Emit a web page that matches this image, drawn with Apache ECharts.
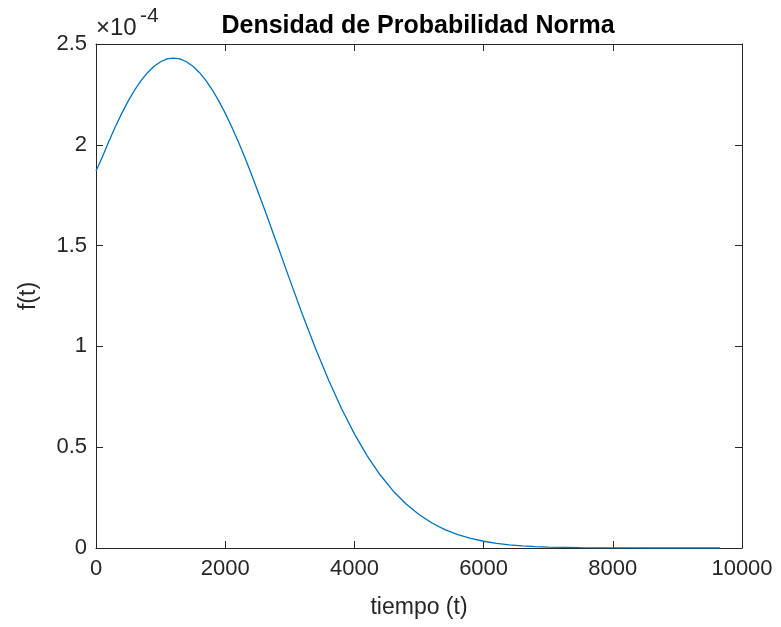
<!DOCTYPE html>
<html>
<head>
<meta charset="utf-8">
<script src="https://cdn.jsdelivr.net/npm/echarts@6/dist/echarts.min.js"></script>
<style>html,body{margin:0;padding:0;background:#fff}#c{width:781px;height:627px}</style>
</head>
<body>
<div id="c"></div>
<script>
const titleText = 'Densidad de Probabilidad Norma';
const xLabel = 'tiempo (t)';
const yLabel = 'f(t)';
const xTicks = [0, 2000, 4000, 6000, 8000, 10000];
const yTicks = [0, 0.5, 1, 1.5, 2, 2.5];
// time values
const tValues = [0,100,200,300,400,500,600,700,800,900,1000,1100,1200,1300,1400,1500,1600,1700,1800,1900,2000,2100,2200,2300,2400,2600,2800,3000,3200,3400,3600,3800,4000,4200,4400,4600,4800,5000,5200,5400,5600,5800,6000,6200,6400,6600,6800,7000,7500,8000,8500,9000,9660];
// density values in units of 1e-4
const fValues = [1.87,1.941,2.018,2.090,2.157,2.218,2.273,2.320,2.359,2.390,2.412,2.426,2.430,2.426,2.412,2.390,2.359,2.320,2.273,2.218,2.157,2.090,2.018,1.941,1.859,1.688,1.510,1.330,1.155,0.988,0.833,0.692,0.566,0.456,0.362,0.283,0.218,0.166,0.124,0.0915,0.0664,0.0476,0.0335,0.0233,0.0159,0.0107,0.0071,0.0047,0.0015,0.0004,0.0001,0,0];

const font = 'Liberation Sans, Arial, sans-serif';
const txt = '#262626';
const data = tValues.map((t, i) => [t, fValues[i]]);
const chart = echarts.init(document.getElementById('c'));
const axisCommon = () => ({
  axisLine: {show: true, onZero: false, lineStyle: {color: txt, width: 1}},
  axisTick: {show: true, inside: true, length: 7, lineStyle: {color: txt}},
  splitLine: {show: false}
});
chart.setOption({
  animation: false,
  backgroundColor: '#fff',
  grid: {left: 96, right: 39, top: 44, bottom: 79},
  graphic: [
    {type: 'text', x: 418, y: 26, style: {text: titleText, fill: '#000', font: 'bold 25px ' + font,
      textAlign: 'center', textVerticalAlign: 'middle'}},
    {type: 'text', x: 96, y: 40, style: {text: '×10', fill: txt, font: '24px ' + font,
      textAlign: 'left', textVerticalAlign: 'bottom'}},
    {type: 'text', x: 140, y: 27, style: {text: '-4', fill: txt, font: '21px ' + font,
      textAlign: 'left', textVerticalAlign: 'bottom'}}
  ],
  xAxis: [Object.assign({type: 'value', min: 0, max: 10000, interval: 2000, position: 'bottom',
      name: xLabel, nameLocation: 'middle', nameGap: 48,
      nameTextStyle: {fontFamily: font, fontSize: 23, color: txt},
      axisLabel: {fontFamily: font, fontSize: 22, color: txt, margin: 10,
        formatter: v => String(v)}}, axisCommon()),
    Object.assign({type: 'value', min: 0, max: 10000, interval: 2000, position: 'top',
      axisLabel: {show: false}}, axisCommon())],
  yAxis: [Object.assign({type: 'value', min: 0, max: 2.5, interval: 0.5, position: 'left',
      name: yLabel, nameLocation: 'middle', nameGap: 56, nameRotate: 90,
      nameTextStyle: {fontFamily: font, fontSize: 23, color: txt},
      axisLabel: {fontFamily: font, fontSize: 22, color: txt, margin: 9,
        formatter: v => String(v)}}, axisCommon()),
    Object.assign({type: 'value', min: 0, max: 2.5, interval: 0.5, position: 'right',
      axisLabel: {show: false}}, axisCommon())],
  series: [{type: 'line', data: data, showSymbol: false, smooth: false,
    lineStyle: {color: '#0072BD', width: 1.3}, xAxisIndex: 0, yAxisIndex: 0}]
});
</script>
</body>
</html>
